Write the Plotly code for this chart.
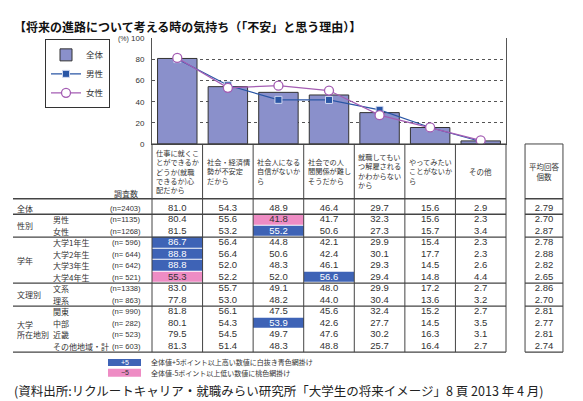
import plotly.graph_objects as go

W, H = 583, 401

# chart data
categories = [
    "仕事に就くこ<br>とができるか<br>どうか(就職<br>できるか)心<br>配だから",
    "社会・経済情<br>勢が不安定<br>だから",
    "社会人になる<br>自信がないか<br>ら",
    "社会での人<br>間関係が難し<br>そうだから",
    "就職してもい<br>つ解雇される<br>かわからない<br>から",
    "やってみたい<br>ことがないか<br>ら",
    "その他",
]
total = [81.0, 54.3, 48.9, 46.4, 29.7, 15.6, 2.9]
male = [80.4, 55.6, 41.8, 41.7, 32.3, 15.6, 2.3]
female = [81.5, 53.2, 55.2, 50.6, 27.3, 15.7, 3.4]
y_ticks = [0, 20, 40, 60, 80, 100]

# table data
row_names = ["全体", "男性", "女性", "大学1年生", "大学2年生", "大学3年生", "大学4年生",
             "文系", "理系", "関東", "中部", "近畿", "その他地域・計"]
row_n = [2403, 1135, 1268, 596, 644, 642, 521, 1338, 863, 990, 282, 523, 603]
row_values = [
    total,
    male,
    female,
    [86.7, 56.4, 44.8, 42.1, 29.9, 15.4, 2.3],
    [88.8, 56.4, 50.6, 42.4, 30.1, 17.7, 2.3],
    [88.8, 52.0, 48.3, 46.1, 29.3, 14.5, 2.6],
    [55.3, 52.2, 52.0, 56.6, 29.4, 14.8, 4.4],
    [83.0, 55.7, 49.1, 48.0, 29.9, 17.2, 2.7],
    [77.8, 53.0, 48.2, 44.0, 30.4, 13.6, 3.2],
    [81.8, 56.1, 47.5, 45.6, 32.4, 15.2, 2.7],
    [80.1, 54.3, 53.9, 42.6, 27.7, 14.5, 3.5],
    [79.5, 54.5, 49.7, 47.6, 30.2, 16.3, 3.1],
    [81.3, 51.4, 48.3, 48.8, 25.7, 16.4, 2.7],
]
row_avg = [2.79, 2.70, 2.87, 2.78, 2.88, 2.82, 2.65, 2.86, 2.70, 2.81, 2.77, 2.81, 2.74]
groups = [("性別", 1, 2), ("学年", 3, 6), ("文理別", 7, 8), ("大学<br>所在地別", 9, 12)]

BAR = "#8A90CB"
MALE = "#2A56A5"
FEMALE = "#A45DB3"
CELL_BLUE = "#3E63B6"
CELL_PINK = "#EE8CC4"
LINE = "#444444"
TXT = "#333333"
JP = "Noto Sans CJK JP"
NUM = "Liberation Sans, Arial, sans-serif"


def X(p):
    return p / W


def Y(p):
    return 1 - p / H


# geometry (pixels)
PLOT_L, PLOT_R, PLOT_T, PLOT_B = 144, 498, 27, 135
NCOL = len(categories)
COLW = (PLOT_R - PLOT_L) / NCOL
ROW0, ROWH = 201, 11.75
AVG_X = (536 - PLOT_L) / COLW - 0.5
AVG_HALF = 0.375


def R(p):
    return (p - ROW0) / ROWH


cols = list(range(NCOL))
fig = go.Figure()

fig.add_trace(go.Bar(x=cols, y=total, name="全体", width=0.78,
                     marker=dict(color=BAR, line=dict(color="#333333", width=1))))
fig.add_trace(go.Scatter(x=cols, y=male, name="男性", mode="lines+markers",
                         line=dict(color=MALE, width=1.2),
                         marker=dict(symbol="square", size=7, color=MALE,
                                     line=dict(color="#D0D8F0", width=1))))
fig.add_trace(go.Scatter(x=cols, y=female, name="女性", mode="lines+markers",
                         line=dict(color=FEMALE, width=1.2),
                         marker=dict(symbol="circle", size=9, color="white",
                                     line=dict(color=FEMALE, width=1.3))))

# highlight cells (+5 / -5 points vs 全体)
z = []
for vals in row_values:
    zr = []
    for c in cols:
        d = round(vals[c] - total[c], 1)
        zr.append(1 if d >= 5 else (-1 if d <= -5 else None))
    z.append(zr)
fig.add_trace(go.Heatmap(x=cols, y=list(range(len(row_values))), z=z, zmin=-1, zmax=1,
                         colorscale=[[0, CELL_PINK], [0.5, CELL_PINK], [0.5, CELL_BLUE], [1, CELL_BLUE]],
                         showscale=False, hoverinfo="skip", xaxis="x2", yaxis="y2",
                         showlegend=False, ygap=1))

# numbers
tx, ty, tt, tc = [], [], [], []
for r, vals in enumerate(row_values):
    for c in cols:
        tx.append(c)
        ty.append(r)
        tt.append(f"{vals[c]:.1f}")
        tc.append("white" if z[r][c] == 1 else TXT)
    tx.append(AVG_X)
    ty.append(r)
    tt.append(f"{row_avg[r]:.2f}")
    tc.append(TXT)
fig.add_trace(go.Scatter(x=tx, y=ty, text=tt, mode="text", xaxis="x2", yaxis="y2",
                         textfont=dict(family=NUM, size=9.5, color=tc),
                         hoverinfo="skip", showlegend=False))

shapes = []
top_r, bot_r = R(PLOT_B), len(row_values) - 0.5


def hline(r, width=1, left=X(5)):
    shapes.append(dict(type="line", xref="paper", yref="y2", x0=left, x1=X(PLOT_R),
                       y0=r, y1=r, line=dict(color=LINE, width=width)))
    shapes.append(dict(type="line", xref="x2", yref="y2", x0=AVG_X - AVG_HALF,
                       x1=AVG_X + AVG_HALF, y0=r, y1=r, line=dict(color=LINE, width=width)))


hline(top_r, 1, X(PLOT_L))
hline(R(191), 1.6)
hline(0.5, 1.6)
for _, a, b in groups:
    hline(b + 0.5, 1.2)
for c in range(NCOL + 1):
    shapes.append(dict(type="line", xref="x2", yref="y2", x0=c - 0.5, x1=c - 0.5,
                       y0=top_r, y1=bot_r, line=dict(color=LINE, width=1)))
for xv in (AVG_X - AVG_HALF, AVG_X + AVG_HALF):
    shapes.append(dict(type="line", xref="x2", yref="y2", x0=xv, x1=xv,
                       y0=top_r, y1=bot_r, line=dict(color=LINE, width=1)))

# bottom legend swatches
shapes.append(dict(type="rect", xref="paper", yref="paper", x0=X(100), x1=X(133),
                   y0=Y(362), y1=Y(355), fillcolor=CELL_BLUE, line=dict(width=0)))
shapes.append(dict(type="rect", xref="paper", yref="paper", x0=X(100), x1=X(133),
                   y0=Y(373), y1=Y(365), fillcolor=CELL_PINK, line=dict(width=0)))

ann = []
ann.append(dict(text="<b>【将来の進路について考える時の気持ち（「不安」と思う理由）】</b>",
                x=X(4), y=Y(15), xanchor="left", yanchor="middle",
                font=dict(family=JP, size=12, color="#111111")))
ann.append(dict(text="(%)", x=X(108), y=Y(28), xanchor="left", yanchor="middle",
                font=dict(family=NUM, size=7, color=TXT)))
for c, label in enumerate(categories):
    if c == NCOL - 1:
        ann.append(dict(text=label, xref="x2", x=c, y=Y(163), xanchor="center",
                        yanchor="middle", font=dict(family=JP, size=7.5, color=TXT)))
    else:
        ann.append(dict(text=label, xref="x2", x=c - 0.5, xshift=2, y=Y(163),
                        xanchor="left", yanchor="middle", align="left",
                        font=dict(family=JP, size=7.2, color=TXT)))
ann.append(dict(text="平均回答<br>個数", xref="x2", x=AVG_X, y=Y(163), xanchor="center",
                yanchor="middle", font=dict(family=JP, size=7.5, color=TXT)))
ann.append(dict(text="調査数", x=X(118), y=Y(186), xanchor="center", yanchor="middle",
                font=dict(family=JP, size=8, color=TXT)))

ann.append(dict(text=row_names[0], x=X(7), yref="y2", y=0, xanchor="left", yanchor="middle",
                font=dict(family=JP, size=8, color=TXT)))
for r in range(1, len(row_names)):
    ann.append(dict(text=row_names[r], x=X(43), yref="y2", y=r, xanchor="left",
                    yanchor="middle", font=dict(family=JP, size=8, color=TXT)))
for name, a, b in groups:
    ann.append(dict(text=name, x=X(7), yref="y2", y=(a + b) / 2, xanchor="left",
                    yanchor="middle", align="left", font=dict(family=JP, size=8, color=TXT)))
for r, n in enumerate(row_n):
    ann.append(dict(text=f"(n={n:>4})", x=X(135), yref="y2", y=r, xanchor="right",
                    yanchor="middle", font=dict(family=NUM, size=7.6, color=TXT)))

ann.append(dict(text="+5", x=X(117), y=Y(358.5), xanchor="center", yanchor="middle",
                font=dict(family=NUM, size=7, color="white")))
ann.append(dict(text="−5", x=X(117), y=Y(369), xanchor="center", yanchor="middle",
                font=dict(family=NUM, size=7, color=TXT)))
ann.append(dict(text="全体値+5ポイント以上高い数値に白抜き青色網掛け", x=X(141), y=Y(358.5),
                xanchor="left", yanchor="middle", font=dict(family=JP, size=7, color=TXT)))
ann.append(dict(text="全体値-5ポイント以上低い数値に桃色網掛け", x=X(141), y=Y(369),
                xanchor="left", yanchor="middle", font=dict(family=JP, size=7, color=TXT)))
ann.append(dict(text="(資料出所:リクルートキャリア・就職みらい研究所「大学生の将来イメージ」8 頁 2013 年 4 月)",
                x=X(4), y=Y(387), xanchor="left", yanchor="middle",
                font=dict(family=JP, size=12.5, color="#222222")))
for a in ann:
    a.setdefault("xref", "paper")
    a.setdefault("yref", "paper")
    a["showarrow"] = False

k = (PLOT_R - PLOT_L) / NCOL  # px per column
fig.update_layout(
    width=W, height=H, autosize=False,
    margin=dict(l=0, r=0, t=0, b=0),
    paper_bgcolor="white", plot_bgcolor="rgba(0,0,0,0)",
    font=dict(family=JP, color=TXT),
    bargap=0.2,
    xaxis=dict(domain=[X(PLOT_L), X(PLOT_R)], range=[-0.5, NCOL - 0.5],
               showticklabels=False, showgrid=False, zeroline=False, ticks="",
               showline=True, linecolor=LINE, linewidth=1, fixedrange=True),
    yaxis=dict(domain=[Y(PLOT_B), Y(PLOT_T)], range=[0, 100], tickvals=y_ticks,
               showgrid=True, gridcolor="#555555", griddash="dot", gridwidth=1,
               zeroline=False, showline=True, mirror=True, linecolor="#555555",
               ticks="", ticklabelstandoff=5,
               tickfont=dict(family=NUM, size=8, color=TXT), fixedrange=True),
    xaxis2=dict(domain=[0, 1], anchor="y2", visible=False, fixedrange=True,
                range=[-0.5 - PLOT_L / k, -0.5 + (W - PLOT_L) / k]),
    yaxis2=dict(domain=[0, 1], anchor="x2", visible=False, fixedrange=True,
                range=[R(H), R(0)]),
    legend=dict(x=X(37), y=Y(28), xanchor="left", yanchor="top",
                bordercolor="#333333", borderwidth=1, bgcolor="white",
                font=dict(family=JP, size=8.5, color=TXT), itemwidth=30,
                tracegroupgap=0),
    shapes=shapes,
    annotations=ann,
)

fig.write_html("out.html")
